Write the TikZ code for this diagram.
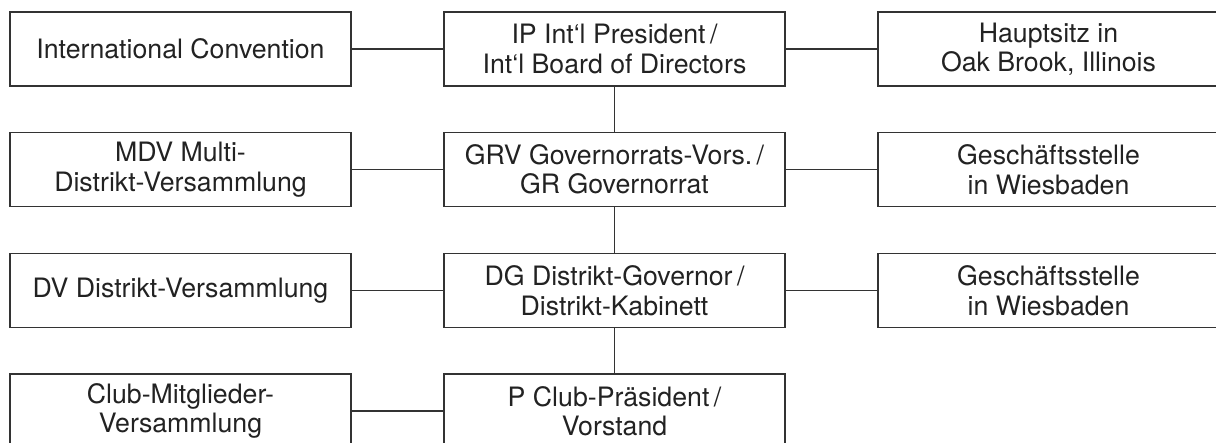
\documentclass[tikz,border=0pt]{standalone}
\usepackage{fontspec}
\setmainfont{TeX Gyre Heros}
\definecolor{linegray}{HTML}{333333}
\definecolor{textgray}{HTML}{222222}
\begin{document}
\begin{tikzpicture}[x=1pt,y=-1pt,
  orgbox/.style={draw=linegray, line width=1.3pt, minimum width=341pt, minimum height=74pt,
    inner sep=0pt, align=center, text=textgray, font=\fontsize{26.7}{29.5}\selectfont},
  link/.style={draw=linegray, line width=1.3pt}]
\useasboundingbox (0,0) rectangle (1216,443);
\node[orgbox] (conv) at (180.5,49) {International Convention};
\node[orgbox] (ip) at (614.5,49) {IP Int‘l President\,/\\Int‘l Board of Directors};
\node[orgbox] (hq) at (1048.5,49) {Hauptsitz in\\Oak Brook, Illinois};
\node[orgbox] (mdv) at (180.5,169.5) {MDV Multi-\\Distrikt-Versammlung};
\node[orgbox] (grv) at (614.5,169.5) {GRV Governorrats-Vors.\,/\\GR Governorrat};
\node[orgbox] (gs1) at (1048.5,169.5) {Geschäftsstelle\\in Wiesbaden};
\node[orgbox] (dv) at (180.5,290.5) {DV Distrikt-Versammlung};
\node[orgbox] (dg) at (614.5,290.5) {DG Distrikt-Governor\,/\\Distrikt-Kabinett};
\node[orgbox] (gs2) at (1048.5,290.5) {Geschäftsstelle\\in Wiesbaden};
\node[orgbox] (cmv) at (180.5,411) {Club-Mitglieder-\\Versammlung};
\node[orgbox] (p) at (614.5,411) {P Club-Präsident\,/\\Vorstand};
\draw[link] (conv) -- (ip);
\draw[link] (ip) -- (hq);
\draw[link] (mdv) -- (grv);
\draw[link] (grv) -- (gs1);
\draw[link] (dv) -- (dg);
\draw[link] (dg) -- (gs2);
\draw[link] (cmv) -- (p);
\draw[link] (ip) -- (grv);
\draw[link] (grv) -- (dg);
\draw[link] (dg) -- (p);
\end{tikzpicture}
\end{document}
